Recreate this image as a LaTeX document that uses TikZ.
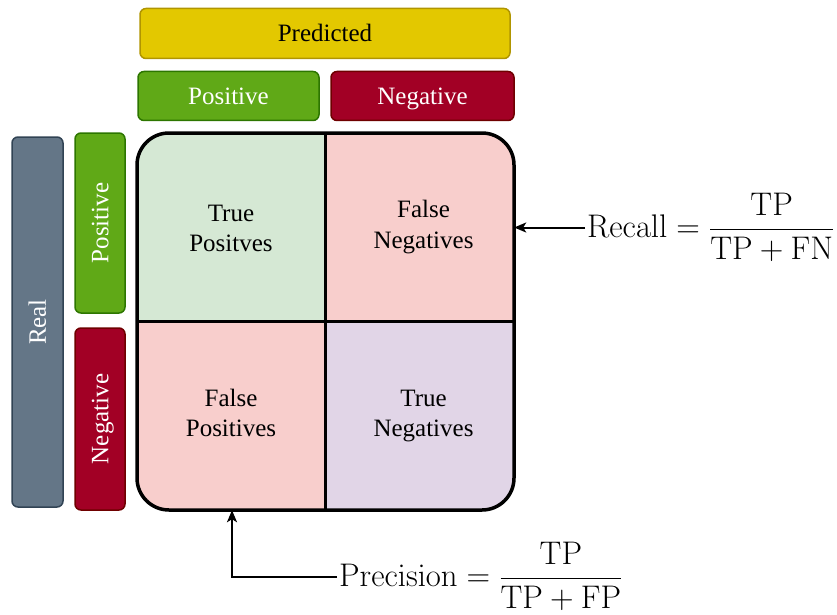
\documentclass[tikz,border=0pt]{standalone}
\usepackage{fix-cm}
\usepackage{amsmath}
\usepackage[no-math]{fontspec}
\setmainfont{Liberation Serif}
\usetikzlibrary{arrows.meta,calc}

\definecolor{yelfill}{HTML}{E3C800}
\definecolor{yeledge}{HTML}{B09500}
\definecolor{grnfill}{HTML}{60A917}
\definecolor{grnedge}{HTML}{2D7600}
\definecolor{redfill}{HTML}{A20025}
\definecolor{rededge}{HTML}{6F0000}
\definecolor{grayfill}{HTML}{647687}
\definecolor{grayedge}{HTML}{314354}
\definecolor{tpcol}{HTML}{D5E8D4}
\definecolor{errcol}{HTML}{F8CECC}
\definecolor{tncol}{HTML}{E1D5E7}

\tikzset{
  labelbox/.style={draw, rounded corners=6pt, line width=1.5pt, inner sep=0pt,
    font=\fontsize{25}{30}\selectfont, text=white,
    text height=16.5pt, text depth=0pt},
  yelbox/.style={labelbox, fill=yelfill, draw=yeledge, text=black},
  grnbox/.style={labelbox, fill=grnfill, draw=grnedge},
  redbox/.style={labelbox, fill=redfill, draw=rededge},
  graybox/.style={labelbox, fill=grayfill, draw=grayedge},
  cell/.style={inner sep=0pt},
  celltext/.style={inner sep=0pt, align=center, font=\fontsize{25}{30.5}\selectfont},
  formula/.style={inner sep=2pt, font=\fontsize{32.7}{40}\selectfont},
  arr/.style={line width=2pt, -{Stealth[length=12pt,width=10pt,inset=3pt]}}
}

\begin{document}
\begin{tikzpicture}[x=1pt,y=-1pt]
  \useasboundingbox (0,0) rectangle (837,615);

  % header boxes
  \node[yelbox, minimum width=370pt, minimum height=50pt] (pred) at (325,33.5) {Predicted};
  \node[grnbox, minimum width=181pt, minimum height=49pt] (ppos) at (228.5,96) {Positive};
  \node[redbox, minimum width=183pt, minimum height=49pt] (pneg) at (422.5,96) {Negative};

  % side boxes
  \node[graybox, rotate=90, minimum width=370pt, minimum height=51pt] (real) at (37.5,322) {Real};
  \node[grnbox, rotate=90, minimum width=180pt, minimum height=50pt] (rpos) at (100,223) {Positive};
  \node[redbox, rotate=90, minimum width=182pt, minimum height=50pt] (rneg) at (100,419) {Negative};

  % confusion matrix cells (fills clipped to the rounded frame)
  \begin{scope}
    \clip[rounded corners=32pt] (137,133) rectangle (514,510);
    \node[cell, fill=tpcol, minimum width=188pt, minimum height=188pt] (tp) at (231,227) {};
    \node[cell, fill=errcol, minimum width=189pt, minimum height=188pt] (fn) at (419.5,227) {};
    \node[cell, fill=errcol, minimum width=188pt, minimum height=189pt] (fp) at (231,415.5) {};
    \node[cell, fill=tncol, minimum width=189pt, minimum height=189pt] (tn) at (419.5,415.5) {};
  \end{scope}
  \node[celltext] (tptext) at ($(tp)+(0,1.5)$) {True\\Positves};
  \node[celltext] (fntext) at ($(fn)+(4,0)$) {False\\Negatives};
  \node[celltext] (fptext) at ($(fp)+(0,-2.5)$) {False\\Positives};
  \node[celltext] (tntext) at ($(tn)+(4,0.5)$) {True\\Negatives};

  \draw[line width=3pt] (tp.north east) -- (fp.south east);
  \draw[line width=3pt] (tp.south west) -- (tn.south east |- tp.south);
  \draw[line width=3.5pt, rounded corners=32pt] (137,133) rectangle (514,510);

  % metric formulas
  \node[formula, anchor=west] (recall) at (585,227.5)
    {$\mathrm{Recall} = \dfrac{\mathrm{TP}}{\mathrm{TP}+\mathrm{FN}}$};
  \node[formula, anchor=west] (prec) at (337,576.5)
    {$\mathrm{Precision} = \dfrac{\mathrm{TP}}{\mathrm{TP}+\mathrm{FP}}$};

  \draw[arr] (recall.west) -- (fn.east |- recall.west);
  \draw[arr] (prec.west) -| ($(fp.south)+(1,0)$);
\end{tikzpicture}
\end{document}
